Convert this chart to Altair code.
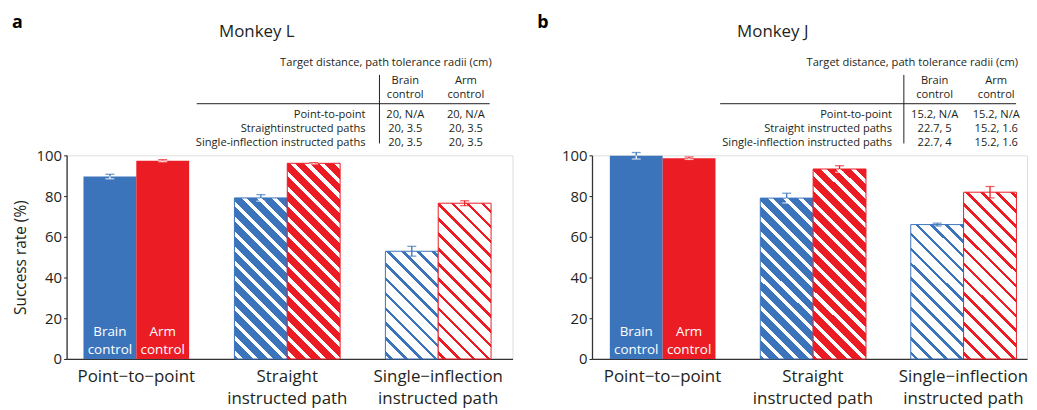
import altair as alt
import pandas as pd

FONT = "Open Sans"
TEXT = "#231F20"
BLUE = "#3C74BC"
RED = "#EB1C24"

# ---------------- data ----------------
categories = ["Point−to−point", "Straight|instructed path", "Single−inflection|instructed path"]
controls = ["Brain control", "Arm control"]
bar_styles = ["solid", "striped", "hollow"]

monkey_L_brain = [89.6, 79.1, 52.9]
monkey_L_arm = [97.4, 96.1, 76.5]
monkey_L_brain_err = [1.1, 1.6, 2.4]
monkey_L_arm_err = [0.5, 0.3, 1.2]

monkey_J_brain = [99.8, 79.0, 66.0]
monkey_J_arm = [98.6, 93.3, 81.9]
monkey_J_brain_err = [1.6, 2.4, 0.7]
monkey_J_arm_err = [0.6, 1.6, 2.8]

y_ticks = [0, 20, 40, 60, 80, 100]

table_header = "Target distance, path tolerance radii (cm)"
table_cols = ["Brain\ncontrol", "Arm\ncontrol"]
L_row_labels = ["Point-to-point", "Straightinstructed paths", "Single-inflection instructed paths"]
L_brain_cells = ["20, N/A", "20, 3.5", "20, 3.5"]
L_arm_cells = ["20, N/A", "20, 3.5", "20, 3.5"]
J_row_labels = ["Point-to-point", "Straight instructed paths", "Single-inflection instructed paths"]
J_brain_cells = ["15.2, N/A", "22.7, 5", "22.7, 4"]
J_arm_cells = ["15.2, N/A", "15.2, 1.6", "15.2, 1.6"]

H = 205
COLORS = {controls[0]: BLUE, controls[1]: RED}


def stripe_gradient(color, style, w, h):
    period = 10.6
    L = (w + h) / 2 ** 0.5
    s = (w + h) / (w * w + h * h)
    if style == "striped":
        band_col, band_w, bg = "#FFFFFF", 3.6, color
    else:
        band_col, band_w, bg = color, 2.6, "#FFFFFF"
    stops = [{"offset": 0, "color": bg}]
    pos = 3.0
    while pos < L:
        a = pos / L
        b = min((pos + band_w) / L, 1.0)
        stops += [{"offset": a, "color": bg}, {"offset": a, "color": band_col},
                  {"offset": b, "color": band_col}, {"offset": b, "color": bg}]
        pos += period
    stops.append({"offset": 1, "color": bg})
    return alt.LinearGradient(gradient="linear", stops=stops, x1=0, y1=1, x2=s * w, y2=1 - s * h)


def make_panel(letter, title, title_x, brain, arm, brain_err, arm_err,
               row_labels, brain_cells, arm_cells, width, pad_outer, align,
               show_ytitle, tab):
    rows = []
    for i, cat in enumerate(categories):
        for ctl, vals, errs in ((controls[0], brain, brain_err), (controls[1], arm, arm_err)):
            rows.append(dict(category=cat, control=ctl, value=vals[i],
                             lo=vals[i] - errs[i], hi=vals[i] + errs[i],
                             style=bar_styles[i], label=ctl.replace(" ", "\n")))
    df = pd.DataFrame(rows)
    step = width / (3 - 0.3 + 2 * pad_outer)
    bar_w = step * 0.7 / 2

    xenc = alt.X("category:N", sort=categories,
                 scale=alt.Scale(domain=categories, paddingInner=0.3, paddingOuter=pad_outer, align=align),
                 axis=alt.Axis(title=None, labelExpr="split(datum.label, '|')", labelAngle=0,
                               ticks=False, labelFontSize=17, labelColor=TEXT, labelPadding=10,
                               labelLineHeight=21.5, domainColor="#333333", domainWidth=1.3,
                               labelFont=FONT, labelBaseline="top"))
    xoff = alt.XOffset("control:N", sort=controls,
                       scale=alt.Scale(domain=controls, paddingInner=0, paddingOuter=0))
    yaxis = alt.Axis(values=y_ticks, title="Success rate (%)" if show_ytitle else None,
                     grid=False, tickSize=3, tickColor=TEXT, labelFontSize=15, labelColor=TEXT,
                     labelPadding=2, domainColor="#333333", domainWidth=1.3,
                     titleFontSize=15.5, titleFontWeight="normal", titleColor=TEXT,
                     titlePadding=8, titleFont=FONT, labelFont=FONT)
    yscale = alt.Scale(domain=[0, 100], nice=False)

    def Y(f):
        return alt.Y(f + ":Q", scale=yscale, axis=yaxis)

    color = alt.Color("control:N", scale=alt.Scale(domain=controls, range=[BLUE, RED]), legend=None)
    base = alt.Chart(df)

    layers = [base.transform_filter(alt.datum.style == "solid").mark_bar().encode(
        x=xenc, xOffset=xoff, y=Y("value"), color=color)]

    for i, cat in enumerate(categories):
        if bar_styles[i] == "solid":
            continue
        for ctl, vals in ((controls[0], brain), (controls[1], arm)):
            grad = stripe_gradient(COLORS[ctl], bar_styles[i], bar_w, vals[i] * H / 100)
            layers.append(base.transform_filter(
                (alt.datum.category == cat) & (alt.datum.control == ctl)
            ).mark_bar(fill=grad, stroke=COLORS[ctl], strokeWidth=1).encode(
                x=xenc, xOffset=xoff, y=Y("value")))

    # error bars
    layers.append(base.mark_rule(strokeWidth=1.3).encode(
        x=xenc, xOffset=xoff, y=Y("value"), y2="hi:Q", color=color))
    layers.append(base.mark_tick(size=9, thickness=1.3).encode(
        x=xenc, xOffset=xoff, y=Y("hi"), color=color))
    inner = base.transform_filter(alt.datum.style != "hollow")
    hollow = base.transform_filter(alt.datum.style == "hollow")
    layers.append(inner.mark_rule(strokeWidth=1.3, color="white").encode(
        x=xenc, xOffset=xoff, y=Y("lo"), y2="value:Q"))
    layers.append(inner.mark_tick(size=9, thickness=1.3, color="white").encode(
        x=xenc, xOffset=xoff, y=Y("lo")))
    layers.append(hollow.mark_rule(strokeWidth=1.3).encode(
        x=xenc, xOffset=xoff, y=Y("lo"), y2="value:Q", color=color))
    layers.append(hollow.mark_tick(size=9, thickness=1.3).encode(
        x=xenc, xOffset=xoff, y=Y("lo"), color=color))

    # in-bar labels
    layers.append(base.transform_filter(alt.datum.style == "solid").mark_text(
        lineBreak="\n", color="white", fontSize=13.5, lineHeight=18, font=FONT,
        baseline="alphabetic", align="center").encode(
        x=xenc, xOffset=xoff, y=alt.value(182), text="label:N"))

    # table & titles
    tdf = pd.DataFrame({"row": [0, 1, 2], "label": row_labels, "brain": brain_cells, "arm": arm_cells})
    hdf = pd.DataFrame({"letter": [letter], "title": [title], "header": [table_header],
                        "c0": [table_cols[0]], "c1": [table_cols[1]]})
    hc = alt.Chart(hdf)
    layers.append(hc.mark_text(fontSize=18, fontWeight="bold", align="left", baseline="alphabetic",
                               color="#000000", font=FONT).encode(
        x=alt.value(-55), y=alt.value(-128), text="letter:N"))
    layers.append(hc.mark_text(fontSize=17, align="center", baseline="alphabetic", color=TEXT, font=FONT).encode(
        x=alt.value(title_x), y=alt.value(-119.5), text="title:N"))
    layers.append(hc.mark_text(fontSize=11.2, align="right", baseline="alphabetic", color=TEXT, font=FONT).encode(
        x=alt.value(tab["title_r"]), y=alt.value(-89.7), text="header:N"))
    for key, cx in (("c0", tab["c0"]), ("c1", tab["c1"])):
        layers.append(hc.mark_text(fontSize=11.2, align="center", baseline="alphabetic", color=TEXT,
                                   lineBreak="\n", lineHeight=14, font=FONT).encode(
            x=alt.value(cx), y=alt.value(-72), text=key + ":N"))
    layers.append(hc.mark_rule(color=TEXT, strokeWidth=1).encode(
        x=alt.value(tab["h0"]), x2=alt.value(tab["h1"]), y=alt.value(-52)))
    layers.append(hc.mark_rule(color=TEXT, strokeWidth=1).encode(
        x=alt.value(tab["v"]), y=alt.value(-81), y2=alt.value(-12)))
    tc = alt.Chart(tdf)
    for r, yb in enumerate([-38, -23.7, -9.7]):
        rc = tc.transform_filter(alt.datum.row == r)
        layers.append(rc.mark_text(fontSize=11.2, align="right", baseline="alphabetic", color=TEXT, font=FONT).encode(
            x=alt.value(tab["rl"]), y=alt.value(yb), text="label:N"))
        layers.append(rc.mark_text(fontSize=11.2, align="center", baseline="alphabetic", color=TEXT, font=FONT).encode(
            x=alt.value(tab["c0"]), y=alt.value(yb), text="brain:N"))
        layers.append(rc.mark_text(fontSize=11.2, align="center", baseline="alphabetic", color=TEXT, font=FONT).encode(
            x=alt.value(tab["c1"]), y=alt.value(yb), text="arm:N"))

    return alt.layer(*layers).properties(width=width, height=H)


panel_a = make_panel("a", "Monkey L", 191.5, monkey_L_brain, monkey_L_arm, monkey_L_brain_err, monkey_L_arm_err,
                     L_row_labels, L_brain_cells, L_arm_cells, 449, 0.127, 0.44, True,
                     dict(title_r=428, c0=341, c1=402, h0=131, h1=426, v=315, rl=301))
panel_b = make_panel("b", "Monkey J", 182, monkey_J_brain, monkey_J_arm, monkey_J_brain_err, monkey_J_arm_err,
                     J_row_labels, J_brain_cells, J_arm_cells, 438, 0.0956, 0.62, False,
                     dict(title_r=429, c0=345, c1=407, h0=129, h1=427, v=314, rl=302))

chart = alt.hconcat(panel_a, panel_b, spacing=23).properties(
    padding={"left": 3, "top": 4, "right": 0, "bottom": 0}
).configure_view(stroke=None).configure(font=FONT)

chart.save("out.html", embed_options={"renderer": "svg", "actions": False})
